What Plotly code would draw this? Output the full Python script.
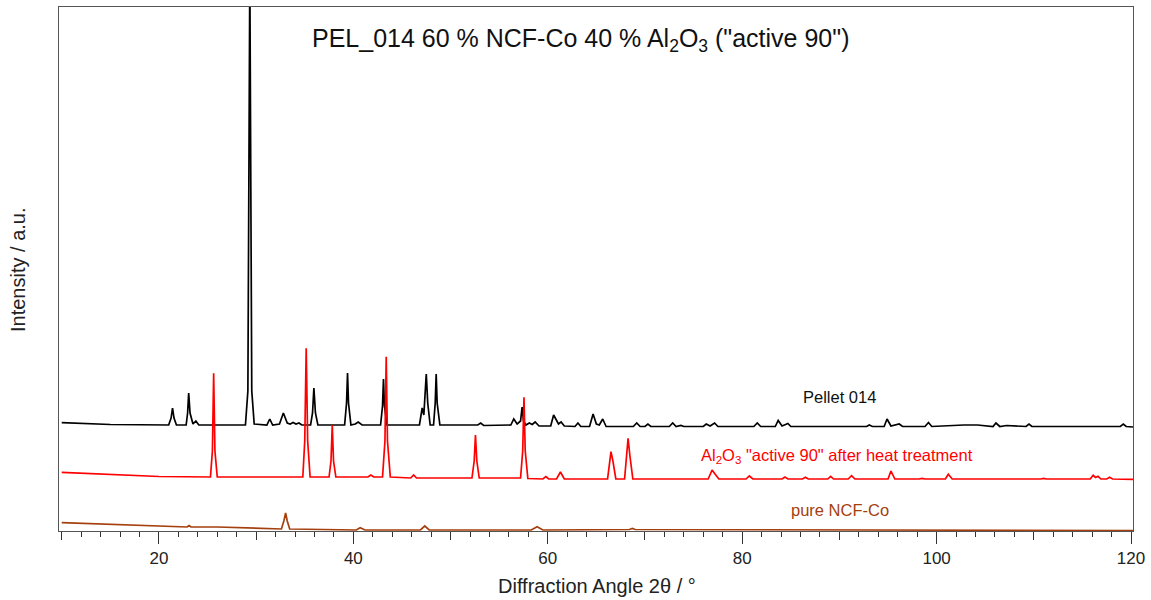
import plotly.graph_objects as go

# ---------------- data ----------------
pellet_2theta = [10.0, 15.0, 21.0, 21.25, 21.4, 21.55, 21.8, 22.8, 22.95, 23.06, 23.2, 23.5, 23.8, 24.1,
                 28.9, 29.15, 29.35, 29.55, 29.8, 31.1, 31.4, 31.7, 32.4, 32.8, 33.2, 33.5, 33.8, 34.1,
                 34.4, 34.7, 35.6, 35.8, 35.94, 36.1, 36.35, 39.1, 39.3, 39.4, 39.5, 39.75, 40.2, 40.5,
                 40.9, 42.8, 43.0, 43.1, 43.2, 43.45, 46.8, 47.08, 47.25, 47.5, 47.65, 47.9, 48.25, 48.42,
                 48.52, 48.62, 48.9, 52.8, 53.1, 53.4, 56.2, 56.5, 56.85, 57.2, 57.36, 57.5, 57.75, 58.1,
                 58.4, 58.7, 59.1, 60.3, 60.6, 60.85, 61.1, 61.37, 61.7, 62.8, 63.1, 63.4, 64.3, 64.66,
                 65.0, 65.3, 65.65, 66.0, 68.8, 69.15, 69.5, 70.0, 70.3, 70.6, 72.5, 72.85, 73.2, 73.7,
                 74.0, 76.0, 76.3, 76.7, 77.16, 77.5, 81.2, 81.55, 81.9, 83.4, 83.7, 84.1, 84.7, 85.0,
                 92.8, 93.07, 93.4, 94.6, 94.9, 95.3, 96.15, 96.5, 98.8, 99.16, 99.5, 102.8, 104.2, 105.8,
                 106.1, 106.5, 107.2, 109.2, 109.5, 109.8, 118.9, 119.2, 119.5, 120.2]
pellet_intensity = [108.3, 106.5, 106.0, 113.0, 123.0, 113.0, 106.0, 106.0, 118.0, 138.0, 118.0, 107.0, 110.0, 106.0,
                    106.0, 140.0, 560.0, 140.0, 107.0, 106.0, 112.0, 106.0, 107.0, 118.0, 108.0, 107.0, 108.5, 107.0,
                    108.0, 106.0, 106.0, 118.0, 143.0, 118.0, 106.0, 106.0, 128.0, 158.0, 128.0, 106.0, 107.0, 109.0,
                    106.0, 106.0, 125.0, 152.0, 125.0, 106.0, 106.0, 123.0, 116.0, 157.0, 128.0, 106.0, 106.0, 128.0,
                    157.0, 128.0, 106.0, 106.0, 108.0, 105.5, 106.0, 112.0, 107.0, 110.0, 124.0, 110.0, 106.0, 108.0,
                    106.5, 109.0, 105.0, 105.0, 116.0, 111.0, 107.0, 109.0, 105.0, 104.5, 108.0, 104.5, 104.5, 117.0,
                    107.0, 106.0, 112.0, 104.5, 104.5, 108.0, 104.5, 104.5, 107.0, 104.5, 104.5, 108.0, 104.5, 105.5,
                    104.5, 104.5, 107.0, 105.0, 108.0, 104.5, 104.5, 108.0, 104.5, 104.5, 110.5, 105.0, 107.5, 104.5,
                    104.5, 106.0, 104.5, 104.5, 112.0, 105.0, 107.0, 104.5, 104.5, 108.5, 104.5, 106.0, 106.0, 104.5,
                    108.0, 104.5, 105.5, 104.5, 107.0, 104.5, 104.5, 107.0, 104.5, 104.0]

alumina_2theta = [10.0, 15.0, 20.0, 25.3, 25.5, 25.63, 25.76, 26.0, 34.8, 35.0, 35.15, 35.3, 35.55, 37.5,
                  37.7, 37.83, 37.96, 38.2, 41.5, 41.8, 42.1, 43.0, 43.25, 43.38, 43.51, 43.8, 45.9, 46.2,
                  46.5, 52.2, 52.43, 52.56, 52.7, 52.95, 57.2, 57.42, 57.55, 57.68, 57.95, 59.5, 59.8, 60.1,
                  60.9, 61.3, 61.7, 66.15, 66.5, 66.7, 67.0, 67.9, 68.26, 68.45, 68.75, 76.5, 76.9, 77.2,
                  77.6, 80.4, 80.73, 81.1, 84.1, 84.4, 84.7, 86.2, 86.5, 86.8, 88.8, 89.1, 89.4, 90.9,
                  91.25, 91.6, 95.0, 95.3, 95.7, 98.2, 98.5, 98.8, 100.9, 101.2, 101.6, 110.7, 111.0, 111.3,
                  115.8, 116.1, 116.35, 116.6, 116.9, 117.5, 117.8, 118.1, 120.2]
alumina_intensity = [58.7, 56.5, 54.5, 54.0, 80.0, 157.7, 80.0, 54.0, 54.0, 90.0, 182.7, 90.0, 54.0, 54.0,
                     70.0, 106.0, 70.0, 54.0, 54.0, 56.0, 54.0, 54.0, 90.0, 174.3, 90.0, 54.0, 53.0, 56.0,
                     53.0, 53.0, 70.0, 96.0, 70.0, 53.0, 53.0, 80.0, 133.7, 80.0, 52.5, 52.0, 54.5, 52.0,
                     52.0, 59.0, 52.0, 52.0, 79.3, 70.0, 52.0, 52.0, 92.7, 75.0, 52.0, 52.0, 61.0, 57.0,
                     52.0, 52.0, 55.0, 52.0, 52.0, 54.0, 52.0, 52.0, 53.7, 52.0, 52.0, 54.7, 52.0, 52.0,
                     55.3, 52.0, 52.0, 60.0, 52.0, 52.0, 52.7, 52.0, 52.0, 56.7, 52.0, 52.0, 52.7, 52.0,
                     52.0, 55.7, 53.5, 54.7, 52.0, 52.0, 53.7, 52.0, 51.7]

ncfco_2theta = [10.0, 15.0, 20.0, 22.9, 23.1, 23.3, 26.0, 30.0, 32.6, 32.85, 33.03, 33.2, 33.45, 40.3,
                40.7, 41.2, 46.9, 47.35, 47.8, 58.3, 58.9, 59.5, 68.4, 68.7, 69.0, 120.2]
ncfco_intensity = [8.3, 6.5, 5.0, 4.0, 5.5, 4.0, 4.0, 2.5, 2.0, 10.0, 18.0, 10.0, 2.0, 1.0,
                   3.3, 1.0, 1.0, 5.0, 1.0, 1.0, 4.3, 1.0, 1.5, 2.5, 1.5, 0.5]

series_names = ["Pellet 014", "Al2O3 \"active 90\" after heat treatment", "pure NCF-Co"]
series_colors = ["#000000", "#ff0000", "#a5400e"]

major_ticks = [20, 40, 60, 80, 100, 120]
mid_ticks = [10, 30, 50, 70, 90, 110]

# ---------------- figure ----------------
W, H = 1151, 600
L, R, T, B = 59, 18, 7, 69

fig = go.Figure()
for xs, ys, name, col in [(pellet_2theta, pellet_intensity, series_names[0], series_colors[0]),
                          (alumina_2theta, alumina_intensity, series_names[1], series_colors[1]),
                          (ncfco_2theta, ncfco_intensity, series_names[2], series_colors[2])]:
    fig.add_trace(go.Scatter(x=xs, y=ys, mode="lines", name=name,
                             line=dict(color=col, width=1.7), showlegend=False))

font = "Liberation Sans, Arial, sans-serif"
xr = [9.72, 120.2]
fig.update_layout(
    width=W, height=H,
    margin=dict(l=L, r=R, t=T, b=B),
    paper_bgcolor="white", plot_bgcolor="white",
    font=dict(family=font, color="#222222"),
    xaxis=dict(range=xr, tickvals=major_ticks, ticks="outside", ticklen=12, tickwidth=1,
               tickcolor="#333333", showline=True, linecolor="#555555", linewidth=1, mirror=True,
               showgrid=False, zeroline=False, tickfont=dict(size=17, color="#222222"),
               minor=dict(dtick=2, tick0=10, ticks="outside", ticklen=5, tickcolor="#333333",
                          showgrid=False)),
    xaxis2=dict(range=xr, overlaying="x", anchor="y", side="bottom", tickvals=mid_ticks,
                ticks="outside", ticklen=8, tickwidth=1, tickcolor="#333333",
                showticklabels=False, showline=False, showgrid=False, zeroline=False),
    yaxis=dict(range=[0, 524], showticklabels=False, ticks="", showline=True,
               linecolor="#555555", linewidth=1, mirror=True, showgrid=False, zeroline=False),
)
# empty trace so that xaxis2 is drawn
fig.add_trace(go.Scatter(x=[None], y=[None], xaxis="x2", yaxis="y", showlegend=False,
                         hoverinfo="skip"))

fig.add_annotation(text="PEL_014 60 % NCF-Co 40 % Al<sub>2</sub>O<sub>3</sub> (\"active 90\")",
                   x=63.4, y=491, xref="x", yref="y", showarrow=False,
                   font=dict(size=25, color="#111111", family=font))
fig.add_annotation(text="Pellet 014", x=90.0, y=134, xref="x", yref="y", showarrow=False,
                   font=dict(size=16.5, color="#111111", family=font))
fig.add_annotation(text="Al<sub>2</sub>O<sub>3</sub> \"active 90\" after heat treatment",
                   x=89.8, y=75, xref="x", yref="y", showarrow=False,
                   font=dict(size=16.5, color="#ff0000", family=font))
fig.add_annotation(text="pure NCF-Co", x=90.1, y=21, xref="x", yref="y", showarrow=False,
                   font=dict(size=16.5, color="#a5400e", family=font))

pw = W - L - R
ph = H - T - B
fig.add_annotation(text="Diffraction Angle 2θ / °", x=(597 - L) / pw, y=(H - B - 586) / ph,
                   xref="paper", yref="paper", xanchor="center", yanchor="middle",
                   showarrow=False, font=dict(size=20, color="#222222", family=font))
fig.add_annotation(text="Intensity / a.u.", x=(18 - L) / pw, y=(H - B - 270) / ph,
                   xref="paper", yref="paper", xanchor="center", yanchor="middle",
                   textangle=-90, showarrow=False,
                   font=dict(size=20, color="#222222", family=font))

fig.write_html("out.html",
               config={"displayModeBar": False},
               post_script="document.body.style.margin='0';"
                           "document.body.style.overflow='hidden';")
